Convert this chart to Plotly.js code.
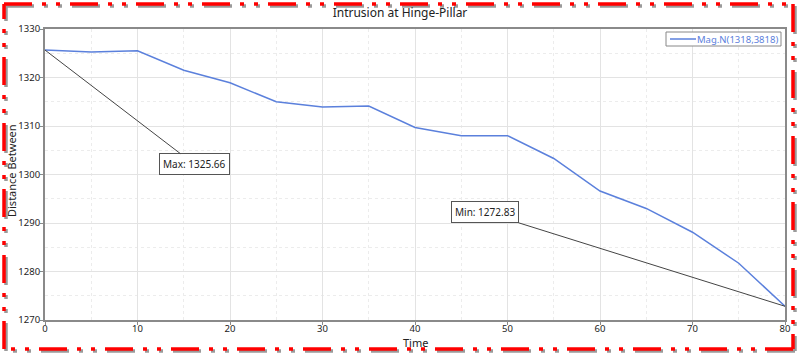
<!DOCTYPE html>
<html>
<head>
<meta charset="utf-8">
<script src="https://cdn.plot.ly/plotly-3.0.1.min.js"></script>
<style>
html,body{margin:0;padding:0;background:#fff;}
#chart{width:800px;height:357px;}
</style>
</head>
<body>
<div id="chart"></div>
<script>
const time = [0,5,10,15,20,25,30,35,40,45,50,55,60,65,70,75,80];
const distance = [1325.66,1325.25,1325.5,1321.5,1318.9,1315.0,1313.9,1314.1,1309.7,1308.0,1308.0,1303.3,1296.6,1293.0,1288.1,1281.7,1272.83];
const seriesName = 'Mag.N(1318,3818)';
const maxPoint = {x: 0, y: 1325.66, label: 'Max: 1325.66'};
const minPoint = {x: 80, y: 1272.83, label: 'Min: 1272.83'};
const chartTitle = 'Intrusion at Hinge-Pillar';
const xTitle = 'Time';
const yTitle = 'Distance Between';

const W = 800, H = 357;
const M = {l: 45, r: 15, t: 29, b: 37};
const pw = W - M.l - M.r, ph = H - M.t - M.b;
function px(x){ return (x - M.l) / pw; }
function py(y){ return (H - M.b - y) / ph; }

const lineColor = '#5b80dc';
const dashPat = '28px,10px,4px,10px,4px,10px';
const FONT = 'Noto Sans, sans-serif';

function borderShapes(off, color){
  const x0 = px(4+off), x1 = px(793+off), y0 = py(4+off), y1 = py(349+off);
  const seg = (ax,ay,bx,by)=>({type:'line', xref:'paper', yref:'paper', x0:ax, y0:ay, x1:bx, y1:by,
    line:{color:color, width:3.5, dash:dashPat}, layer:'above'});
  return [seg(x0,y0,x1,y0), seg(x1,y0,x1,y1), seg(x1,y1,x0,y1), seg(x0,y1,x0,y0)];
}

const data = [{
  x: time, y: distance, type: 'scatter', mode: 'lines', name: seriesName,
  line: {color: lineColor, width: 1.5}, showlegend: false
}];

// compact legend box (sample line + label)
const legendShapes = [
  {type:'rect', xref:'paper', yref:'paper', x0:px(666), x1:px(781), y0:py(32), y1:py(46),
   fillcolor:'#fff', line:{color:'#888', width:1}, layer:'above'},
  {type:'line', xref:'paper', yref:'paper', x0:px(670), x1:px(696), y0:py(39), y1:py(39),
   line:{color:lineColor, width:1.5}, layer:'above'}
];

const annFont = {family: FONT, size: 10, color: '#222'};
const layout = {
  width: W, height: H,
  margin: M,
  paper_bgcolor: '#fff', plot_bgcolor: '#fff',
  font: {family: FONT, size: 10, color: '#222'},
  title: {text: chartTitle, x: 0.5, xanchor: 'center', y: 0.965, yanchor: 'middle',
          font: {size: 12, color: '#222'}},
  showlegend: false,
  xaxis: {
    range: [0, 80], dtick: 10, tick0: 0,
    showline: true, linecolor: '#8a8a8a', linewidth: 2, mirror: true,
    ticks: 'outside', ticklen: 3, tickcolor: '#8a8a8a', ticklabelstandoff: -4,
    showgrid: true, gridcolor: '#e3e3e3', gridwidth: 1,
    minor: {dtick: 5, showgrid: true, gridcolor: '#ececec', griddash: 'dot', ticks: ''},
    zeroline: false,
    tickfont: {size: 9.5, color: '#222'}
  },
  yaxis: {
    range: [1270, 1330], dtick: 10, tick0: 1270,
    showline: true, linecolor: '#8a8a8a', linewidth: 2, mirror: true,
    ticks: 'outside', ticklen: 3, tickcolor: '#8a8a8a', ticklabelstandoff: -2,
    showgrid: true, gridcolor: '#e3e3e3', gridwidth: 1,
    minor: {dtick: 5, showgrid: true, gridcolor: '#ececec', griddash: 'dot', ticks: ''},
    zeroline: false,
    tickfont: {size: 9.5, color: '#222'}
  },
  annotations: [
    {x: maxPoint.x, y: maxPoint.y, xref: 'x', yref: 'y', text: maxPoint.label,
     showarrow: true, arrowhead: 0, arrowwidth: 1, arrowcolor: '#444', ax: 149, ay: 114,
     bgcolor: '#fff', bordercolor: '#555', borderwidth: 1, borderpad: 3, font: annFont},
    {x: minPoint.x, y: minPoint.y, xref: 'x', yref: 'y', text: minPoint.label,
     showarrow: true, arrowhead: 0, arrowwidth: 1, arrowcolor: '#444', ax: -300, ay: -94,
     bgcolor: '#fff', bordercolor: '#555', borderwidth: 1, borderpad: 3, font: annFont},
    {xref: 'paper', yref: 'paper', x: px(780), y: py(39), xanchor: 'right', yanchor: 'middle',
     text: seriesName, showarrow: false, font: {size: 9.5, color: lineColor}},
    {xref: 'paper', yref: 'paper', x: px(415), y: py(342), xanchor: 'center', yanchor: 'middle',
     text: xTitle, showarrow: false, font: {size: 11, color: '#222'}},
    {xref: 'paper', yref: 'paper', x: px(11), y: py(171), xanchor: 'center', yanchor: 'middle',
     text: yTitle, textangle: -90, showarrow: false, font: {size: 11, color: '#222'}}
  ],
  shapes: borderShapes(2, '#9a9a9a').concat(borderShapes(0, '#ff0000')).concat(legendShapes)
};

Plotly.newPlot('chart', data, layout, {displayModeBar: false, staticPlot: true});
</script>
</body>
</html>
